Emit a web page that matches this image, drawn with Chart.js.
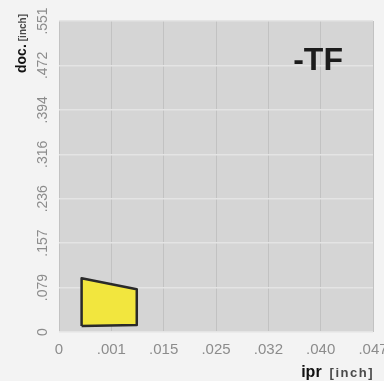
<!DOCTYPE html>
<html>
<head>
<meta charset="utf-8">
<script src="https://cdn.jsdelivr.net/npm/chart.js@4/dist/chart.umd.min.js"></script>
<style>
  html, body { margin: 0; padding: 0; background: #f3f3f3; overflow: hidden; }
  #wrap { width: 400px; height: 381px; }
</style>
</head>
<body>
<div id="wrap"><canvas id="c" width="400" height="381"></canvas></div>
<script>
// Axis tick positions (inch) and their printed labels
const xTickValues = [0, 0.00787, 0.01575, 0.02362, 0.0315, 0.03937, 0.04724];
const xTickLabels = ['0', '.001', '.015', '.025', '.032', '.040', '.047'];
const yTickValues = [0, 0.0787, 0.1575, 0.2362, 0.315, 0.3937, 0.4724, 0.5512];
const yTickLabels = ['0', '.079', '.157', '.236', '.316', '.394', '.472', '.551'];

// Chip-breaking area polygon for -TF (ipr, doc in inch)
const areaIpr = [0.0034, 0.0034, 0.0117, 0.0117, 0.0034];
const areaDoc = [0.0106, 0.0953, 0.0756, 0.0126, 0.0106];

const chipLabel = '-TF';
const xTitleMain = 'ipr', xTitleUnit = '[inch]';
const yTitleMain = 'doc.', yTitleUnit = '[inch]';

const areaPoints = areaIpr.map((x, i) => ({ x: x, y: areaDoc[i] }));

const plotBg = {
  id: 'plotBg',
  beforeDraw(chart) {
    const { ctx, chartArea: a } = chart;
    ctx.save();
    ctx.fillStyle = '#d5d5d5';
    ctx.fillRect(a.left, a.top, a.right - a.left, a.bottom - a.top);
    ctx.restore();
  }
};

const texts = {
  id: 'texts',
  afterDraw(chart) {
    const { ctx, chartArea: a } = chart;
    ctx.save();
    // chip-breaker label
    ctx.fillStyle = '#1c1c1c';
    ctx.font = 'bold 32px "Liberation Sans", Arial, sans-serif';
    ctx.textAlign = 'center';
    ctx.textBaseline = 'alphabetic';
    ctx.fillText(chipLabel, a.left + (a.right - a.left) * 0.825, a.top + 49);

    // x title, right-aligned to plot right edge
    ctx.textAlign = 'left';
    ctx.font = 'bold 13px "Liberation Sans", Arial, sans-serif';
    ctx.letterSpacing = '1.5px';
    const uw = ctx.measureText(xTitleUnit).width;
    const ux = a.right - uw + 1;
    ctx.fillStyle = '#4a4a4a';
    ctx.fillText(xTitleUnit, ux, 377);
    ctx.letterSpacing = '0px';
    ctx.font = 'bold 16px "Liberation Sans", Arial, sans-serif';
    const mw = ctx.measureText(xTitleMain).width;
    ctx.fillStyle = '#111';
    ctx.fillText(xTitleMain, ux - 8 - mw, 377);

    // y title, rotated, ending at plot top
    ctx.translate(26, 73);
    ctx.rotate(-Math.PI / 2);
    ctx.font = 'bold 14px "Liberation Sans", Arial, sans-serif';
    ctx.fillStyle = '#111';
    ctx.fillText(yTitleMain, 0, 0);
    const dw = ctx.measureText(yTitleMain).width;
    ctx.font = 'bold 10px "Liberation Sans", Arial, sans-serif';
    ctx.fillStyle = '#4a4a4a';
    ctx.fillText(yTitleUnit, dw + 3, 0);
    ctx.restore();
  }
};

new Chart(document.getElementById('c'), {
  type: 'scatter',
  data: {
    datasets: [{
      data: areaPoints,
      showLine: true,
      fill: 'shape',
      backgroundColor: '#f2e63e',
      borderColor: '#2a2a2a',
      borderWidth: 2.5,
      borderJoinStyle: 'round',
      pointRadius: 0,
      tension: 0
    }]
  },
  options: {
    responsive: false,
    animation: false,
    layout: { padding: { top: 21, right: 27, left: 0, bottom: 0 } },
    plugins: { legend: { display: false }, tooltip: { enabled: false } },
    scales: {
      x: {
        type: 'linear',
        min: 0,
        max: xTickValues[xTickValues.length - 1],
        afterBuildTicks: (s) => { s.ticks = xTickValues.map(v => ({ value: v })); },
        afterFit: (s) => { s.height = 49; },
        ticks: {
          callback: (v, i) => xTickLabels[i],
          color: '#8c8c8c',
          font: { family: '"Liberation Sans", Arial, sans-serif', size: 15 },
          padding: 9,
          maxRotation: 0,
          minRotation: 0
        },
        grid: { color: '#c2c2c2', lineWidth: 1, drawTicks: false },
        border: { display: false }
      },
      y: {
        type: 'linear',
        min: 0,
        max: yTickValues[yTickValues.length - 1],
        afterBuildTicks: (s) => { s.ticks = yTickValues.map(v => ({ value: v })); },
        afterFit: (s) => { s.width = 59; },
        ticks: {
          callback: (v, i) => yTickLabels[i],
          color: '#8c8c8c',
          font: { family: '"Liberation Sans", Arial, sans-serif', size: 14 },
          minRotation: 90,
          maxRotation: 90,
          crossAlign: 'center',
          padding: 2
        },
        grid: { color: '#e4e4e4', lineWidth: 1.5, drawTicks: false },
        border: { display: false }
      }
    }
  },
  plugins: [plotBg, texts]
});
</script>
</body>
</html>
